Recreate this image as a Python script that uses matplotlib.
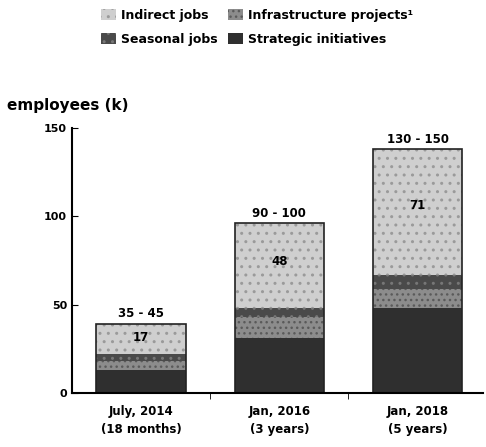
import numpy as np
import matplotlib.pyplot as plt

# values (thousands of employees)
periods = ["July, 2014\n(18 months)", "Jan, 2016\n(3 years)", "Jan, 2018\n(5 years)"]
strategic = [13, 31, 48]
infrastructure = [5, 12, 11]
seasonal = [4, 5, 8]
indirect = [17, 48, 71]
range_labels = ["35 - 45", "90 - 100", "130 - 150"]

plt.rcParams['font.family'] = ['DejaVu Sans']
plt.rcParams['font.weight'] = 'bold'

fig = plt.figure(figsize=(4.86, 4.47), dpi=100)
ax = fig.add_axes([0.148, 0.121, 0.845, 0.593])

x = np.arange(len(periods))
w = 0.645
b1 = np.array(strategic)
b2 = b1 + np.array(infrastructure)
b3 = b2 + np.array(seasonal)
total = b3 + np.array(indirect)

h_str = ax.bar(x, strategic, w, color='#2f2f2f')
h_inf = ax.bar(x, infrastructure, w, bottom=b1, color='#8c8c8c', hatch='...', edgecolor='#5a5a5a', linewidth=0)
h_sea = ax.bar(x, seasonal, w, bottom=b2, color='#4a4a4a', hatch='..', edgecolor='#777777', linewidth=0)
h_ind = ax.bar(x, indirect, w, bottom=b3, color='#cfcfcf', hatch='..', edgecolor='#9a9a9a', linewidth=0)
ax.bar(x, total, w, fill=False, edgecolor='#222222', linewidth=1.2)

for i in range(len(x)):
    ax.text(x[i], total[i] + 2, range_labels[i], ha='center', va='bottom', fontsize=8.5)
    ax.text(x[i], b3[i] + indirect[i] * 0.55, str(indirect[i]), ha='center', va='center', fontsize=8.5)

ax.set_xlim(-0.5, 2.47)
ax.set_ylim(0, 150)
ax.set_yticks([0, 50, 100, 150])
ax.set_xticks(x)
ax.set_xticklabels(periods, fontsize=8.5, linespacing=1.5)
ax.set_xticks([0.5, 1.5], minor=True)
ax.tick_params(axis='x', which='major', length=0, pad=9)
ax.tick_params(axis='x', which='minor', length=4, direction='out')
ax.tick_params(axis='y', labelsize=8, length=4, direction='in')
for s in ['top', 'right']:
    ax.spines[s].set_visible(False)
ax.spines['left'].set_linewidth(1.5)
ax.spines['bottom'].set_linewidth(1.5)

fig.text(0.015, 0.765, "employees (k)", fontsize=11, ha='left', va='center')

fig.legend([h_ind, h_sea, h_inf, h_str],
           ['Indirect jobs', 'Seasonal jobs', 'Infrastructure projects\u00b9', 'Strategic initiatives'],
           ncol=2, loc='upper left', bbox_to_anchor=(0.185, 1.005), frameon=False,
           fontsize=9, handlelength=1.2, handleheight=1.0, columnspacing=0.8,
           handletextpad=0.4, labelspacing=0.85)

plt.savefig("out.png", dpi=100)
